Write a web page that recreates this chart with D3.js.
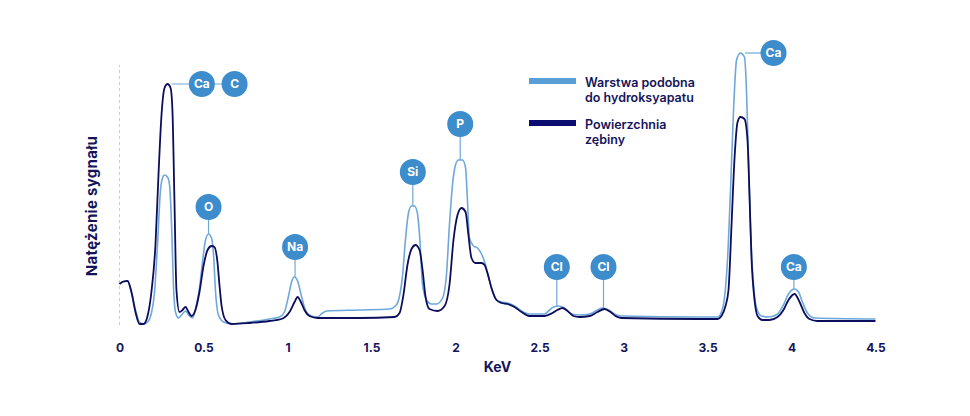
<!DOCTYPE html>
<html>
<head>
<meta charset="utf-8">
<script src="https://cdn.jsdelivr.net/npm/d3@7/dist/d3.min.js"></script>
<style>
  html, body { margin: 0; padding: 0; background: #ffffff; }
  svg { display: block; font-family: Inter, "Open Sans", sans-serif; }
</style>
</head>
<body>
<svg id="chart" width="970" height="416"></svg>
<script>
// ---- DATA ----
// Energy (keV) for series "Powierzchnia zębiny"
const dentinKeV = [0.000,0.024,0.048,0.071,0.095,0.119,0.143,0.167,0.190,0.214,0.232,0.250,0.268,0.286,0.304,0.315,0.327,0.339,0.357,0.375,0.393,0.411,0.429,0.452,0.476,0.500,0.524,0.548,0.565,0.583,0.595,0.607,0.631,0.667,0.774,0.893,0.964,1.012,1.042,1.060,1.077,1.101,1.131,1.179,1.429,1.637,1.667,1.690,1.714,1.738,1.762,1.786,1.804,1.821,1.845,1.893,1.935,1.964,1.988,2.012,2.036,2.060,2.077,2.095,2.119,2.155,2.173,2.190,2.214,2.244,2.274,2.310,2.351,2.393,2.440,2.530,2.577,2.607,2.637,2.667,2.702,2.738,2.798,2.845,2.887,2.923,2.952,2.988,3.452,3.560,3.583,3.607,3.625,3.643,3.661,3.679,3.696,3.720,3.738,3.750,3.762,3.780,3.798,3.827,3.869,3.917,3.952,3.982,4.018,4.048,4.077,4.107,4.155,4.500];
const dentinCounts = [164,174,176,132,52,4,4,36,132,320,600,840,948,964,948,860,500,140,52,60,72,52,36,60,132,236,300,316,312,252,160,80,20,4,8,16,24,52,92,112,96,60,36,28,28,32,48,120,240,304,320,300,220,116,64,56,76,160,340,440,468,452,360,268,248,248,240,208,148,100,88,84,72,52,36,36,48,60,68,56,36,32,36,52,64,52,36,28,24,24,36,76,140,400,668,812,832,824,740,520,268,100,36,20,20,32,60,100,124,92,48,24,16,16];

// Energy (keV) for series "Warstwa podobna do hydroksyapatu"
const layerKeV = [0.000,0.024,0.048,0.071,0.095,0.119,0.143,0.167,0.190,0.208,0.226,0.244,0.256,0.268,0.286,0.298,0.310,0.321,0.333,0.351,0.369,0.393,0.411,0.435,0.458,0.476,0.494,0.512,0.530,0.548,0.560,0.571,0.589,0.619,0.667,0.774,0.893,0.952,0.982,1.006,1.024,1.042,1.060,1.083,1.107,1.143,1.179,1.208,1.232,1.429,1.607,1.643,1.667,1.685,1.702,1.720,1.738,1.756,1.774,1.786,1.804,1.827,1.857,1.887,1.923,1.946,1.964,1.982,2.000,2.018,2.042,2.060,2.071,2.083,2.107,2.131,2.155,2.179,2.202,2.238,2.274,2.310,2.351,2.393,2.440,2.530,2.560,2.583,2.619,2.655,2.690,2.738,2.798,2.845,2.875,2.911,2.946,2.988,3.452,3.560,3.583,3.601,3.619,3.637,3.655,3.673,3.696,3.720,3.732,3.744,3.756,3.774,3.792,3.821,3.869,3.917,3.952,3.982,4.018,4.042,4.065,4.095,4.137,4.500];
const layerCounts = [164,174,176,132,60,12,4,12,48,128,320,540,588,600,592,560,400,160,52,28,40,56,40,28,80,148,252,340,364,348,280,140,40,12,4,12,24,32,52,116,172,192,176,116,60,36,32,48,56,60,64,76,116,200,340,448,476,476,444,360,160,100,84,84,108,200,400,560,640,660,660,628,500,348,316,308,284,240,180,104,92,88,76,56,44,44,60,72,76,64,44,40,44,60,68,60,44,36,32,32,52,108,260,540,860,1060,1088,1072,940,660,380,160,68,36,32,44,80,124,144,132,92,48,28,24];

const xTicks = [0, 0.5, 1, 1.5, 2, 2.5, 3, 3.5, 4, 4.5];
const xTickLabels = ["0", "0.5", "1", "1.5", "2", "2.5", "3", "3.5", "4", "4.5"];

const seriesNames = ["Warstwa podobna do hydroksyapatu", "Powierzchnia zębiny"];
const legendLines = [["Warstwa podobna", "do hydroksyapatu"], ["Powierzchnia", "zębiny"]];

// Vertical element labels: element, energy (keV), signal at peak, signal level of the badge
const elemLabels  = ["O", "Na", "Si", "P", "Cl", "Cl", "Ca"];
const elemKeV     = [0.530, 1.045, 1.746, 2.028, 2.603, 2.881, 4.014];
const elemPeak    = [364, 192, 476, 660, 76, 68, 144];
const elemBadge   = [472, 312, 612, 804, 232, 232, 232];

// Horizontal element labels: peak energy, peak signal, badge energies
const sideLabels   = [["Ca", "C"], ["Ca"]];
const sidePeakKeV  = [0.286, 3.700];
const sidePeakVal  = [964, 1088];
const sideBadgeKeV = [[0.490, 0.685], [3.893]];

// ---- CHART ----
const svg = d3.select("#chart");
const navy = "#14145a";
const darkLine = "#0c0d5c";
const lightLine = "#6ea8da";
const badge = "#3d8ccc";

const x = d3.scaleLinear().domain([0, 4.5]).range([119.5, 875.5]);
const y = d3.scaleLinear().domain([0, 1100]).range([325, 50]);

// dashed y-axis guide
svg.append("line")
  .attr("x1", x(0)).attr("x2", x(0))
  .attr("y1", y(0)).attr("y2", y(1040))
  .attr("stroke", "#c9cbd6").attr("stroke-width", 1)
  .attr("stroke-dasharray", "3,3");

// x axis labels
const xAxis = d3.axisBottom(x).tickValues(xTicks)
  .tickFormat((d, i) => xTickLabels[i]).tickSize(0).tickPadding(0);
const gx = svg.append("g").attr("transform", `translate(0,${y(0) + 18})`).call(xAxis);
gx.select(".domain").remove();
gx.selectAll("text")
  .attr("dy", "0.71em")
  .attr("fill", navy)
  .style("font-family", "Inter, sans-serif")
  .style("font-size", "12px")
  .style("font-weight", "700");

svg.append("text")
  .attr("x", x(2.25)).attr("y", 372)
  .attr("text-anchor", "middle")
  .attr("fill", navy)
  .style("font-size", "14px").style("font-weight", "700")
  .text("KeV");

svg.append("text")
  .attr("transform", `translate(97,${206}) rotate(-90)`)
  .attr("text-anchor", "middle")
  .attr("fill", navy)
  .style("font-size", "15px").style("font-weight", "700")
  .style("letter-spacing", "0.3px")
  .text("Natężenie sygnału");

// lines
const line = d3.line().x(d => x(d[0])).y(d => y(d[1])).curve(d3.curveMonotoneX);
const layerData = layerKeV.map((k, i) => [k, layerCounts[i]]);
const dentinData = dentinKeV.map((k, i) => [k, dentinCounts[i]]);

svg.append("path").datum(layerData)
  .attr("d", line).attr("fill", "none")
  .attr("stroke", lightLine).attr("stroke-width", 1.6)
  .attr("stroke-linejoin", "round");
svg.append("path").datum(dentinData)
  .attr("d", line).attr("fill", "none")
  .attr("stroke", darkLine).attr("stroke-width", 1.8)
  .attr("stroke-linejoin", "round");

// connectors + badges
const R = 13;
const gAnn = svg.append("g");
function drawBadge(cx, cy, label) {
  gAnn.append("circle").attr("cx", cx).attr("cy", cy).attr("r", R).attr("fill", badge);
  gAnn.append("text").attr("x", cx).attr("y", cy).attr("dy", "0.36em")
    .attr("text-anchor", "middle").attr("fill", "#ffffff")
    .style("font-size", "12px").style("font-weight", "700")
    .text(label);
}
elemLabels.forEach((lab, i) => {
  gAnn.append("line")
    .attr("x1", x(elemKeV[i])).attr("x2", x(elemKeV[i]))
    .attr("y1", y(elemPeak[i])).attr("y2", y(elemBadge[i]))
    .attr("stroke", lightLine).attr("stroke-width", 1.2);
});
sideLabels.forEach((labs, i) => {
  const ks = sideBadgeKeV[i];
  gAnn.append("line")
    .attr("x1", x(sidePeakKeV[i]) + 4).attr("x2", x(ks[ks.length - 1]))
    .attr("y1", y(sidePeakVal[i])).attr("y2", y(sidePeakVal[i]))
    .attr("stroke", lightLine).attr("stroke-width", 1.2);
});
elemLabels.forEach((lab, i) => drawBadge(x(elemKeV[i]), y(elemBadge[i]), lab));
sideLabels.forEach((labs, i) => {
  labs.forEach((lab, j) => drawBadge(x(sideBadgeKeV[i][j]), y(sidePeakVal[i]), lab));
});

// legend
const legColors = [lightLine, "#0a0c70"];
const legColorsFill = ["#5a9ed6", "#0a0c70"];
const legY = [78, 120];
const leg = svg.append("g");
seriesNames.forEach((name, i) => {
  leg.append("rect").attr("x", 529).attr("y", legY[i]).attr("width", 47).attr("height", 6)
    .attr("fill", legColorsFill[i]);
  legendLines[i].forEach((t, j) => {
    leg.append("text").attr("x", 585).attr("y", legY[i] + 9 + j * 15)
      .attr("fill", navy)
      .style("font-size", "12.5px").style("font-weight", "600")
      .text(t);
  });
});
</script>
</body>
</html>
